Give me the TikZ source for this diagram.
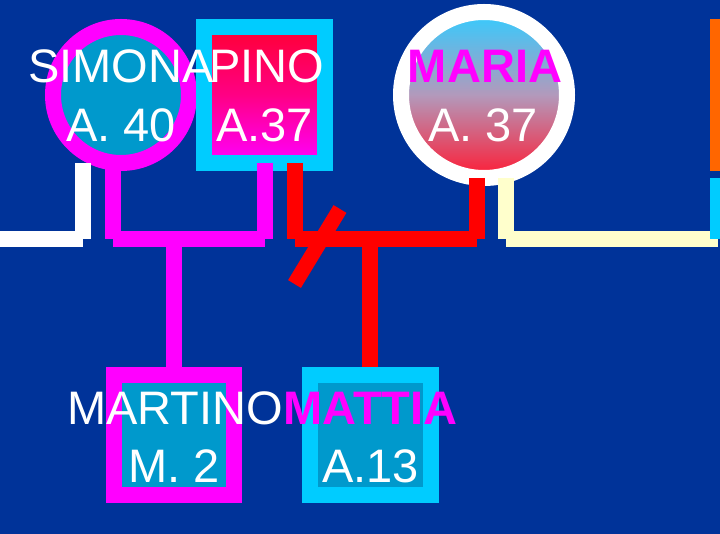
\documentclass[tikz,border=0pt]{standalone}
\usepackage{fontspec}
\setmainfont{Liberation Sans}
\definecolor{bgblue}{HTML}{003399}
\definecolor{magc}{HTML}{FF00FF}
\definecolor{cyanb}{HTML}{00CCFF}
\definecolor{fillblue}{HTML}{0099CC}
\definecolor{redc}{HTML}{FF0000}
\definecolor{pinored}{HTML}{FF0033}
\definecolor{creamc}{HTML}{FFFFCC}
\definecolor{orangec}{HTML}{FF6600}
\definecolor{mariatop}{HTML}{33CCFF}
\definecolor{mariamid}{HTML}{B399BB}
\definecolor{mariabot}{HTML}{FF1A33}
\tikzset{
  nm/.style={text=white, font=\fontsize{47}{56}\selectfont, inner sep=0pt, anchor=base},
  nmb/.style={nm, text=magc, font=\fontsize{47}{56}\selectfont\bfseries},
  ln/.style={line width=16pt},
  person/.style={line width=16pt, inner sep=0pt}
}
\begin{document}
\begin{tikzpicture}[x=1pt,y=-1pt]
\useasboundingbox (0,0) rectangle (720,534);
\clip (0,0) rectangle (720,534);
\fill[bgblue] (0,0) rectangle (720,534);
% partial shapes at right edge
\fill[orangec] (710,19) rectangle (730,171);
% persons
\node[person, circle, draw=magc, fill=fillblue, minimum size=136pt] (simona) at (121,95) {};
\node[person, rectangle, draw=cyanb, top color=pinored, bottom color=magc, middle color=pinored!60!magc, minimum width=121pt, minimum height=136pt] (pino) at (264.5,95) {};
\node[person, circle, draw=white, top color=mariatop, bottom color=mariabot, middle color=mariamid, minimum size=166pt] (maria) at (484,95) {};
\node[person, rectangle, draw=magc, fill=fillblue, minimum size=120pt] (martino) at (174,435) {};
\node[person, rectangle, draw=cyanb, fill=fillblue, minimum width=121pt, minimum height=120pt] (mattia) at (370.5,435) {};
% coordinates
\coordinate (wT) at (83,163); \coordinate (wC) at (83,239); \coordinate (wE) at (0,239);
\coordinate (mL) at (113,163); \coordinate (mLc) at (113,239);
\coordinate (mR) at (265,163); \coordinate (mRc) at (265,239);
\coordinate (mK) at (174,239);
\coordinate (rL) at (295,163); \coordinate (rLc) at (295,239);
\coordinate (rR) at (477,178); \coordinate (rRc) at (477,239);
\coordinate (rK) at (370,239);
\coordinate (cT) at (506,178); \coordinate (cC) at (506,239); \coordinate (cE) at (718,239);
\coordinate (kT) at (718,178); \coordinate (kB) at (718,239);
\coordinate (s1) at (340,209); \coordinate (s2) at (294.5,284);
% connectors
\draw[ln, white] (wT) -- (wC);
\draw[ln, white] (wE) -- (wC);
\draw[ln, magc] (mL) -- (mLc);
\draw[ln, magc] (mR) -- (mRc);
\draw[ln, magc] (mLc) -- (mRc);
\draw[ln, magc] (mK) -- (martino.north);
\draw[ln, redc] (rL) -- (rLc);
\draw[ln, redc] (rR) -- (rRc);
\draw[ln, redc] (rLc) -- (rRc);
\draw[ln, redc] (rK) -- (mattia.north -| rK);
\draw[line width=15pt, redc] (s1) -- (s2);
\draw[ln, creamc] (cT) -- (cC);
\draw[ln, creamc] (cC) -- (cE);
\draw[ln, cyanb] (kT) -- (kB);
% texts
\node[nm] (simonaN) at (121,83) {SIMONA};
\node[nm] (simonaA) at (121,142) {A. 40};
\node[nm] (pinoN) at (267,83) {PINO};
\node[nm] (pinoA) at (264.5,142) {A.37};
\node[nmb] (mariaN) at (485,83) {MARIA};
\node[nm] (mariaA) at (483,142) {A. 37};
\node[nm] (martinoN) at (175,424) {MARTINO};
\node[nm] (martinoA) at (174,482) {M. 2};
\node[nmb] (mattiaN) at (370.5,424) {MATTIA};
\node[nm] (mattiaA) at (370.5,482) {A.13};
\end{tikzpicture}
\end{document}
